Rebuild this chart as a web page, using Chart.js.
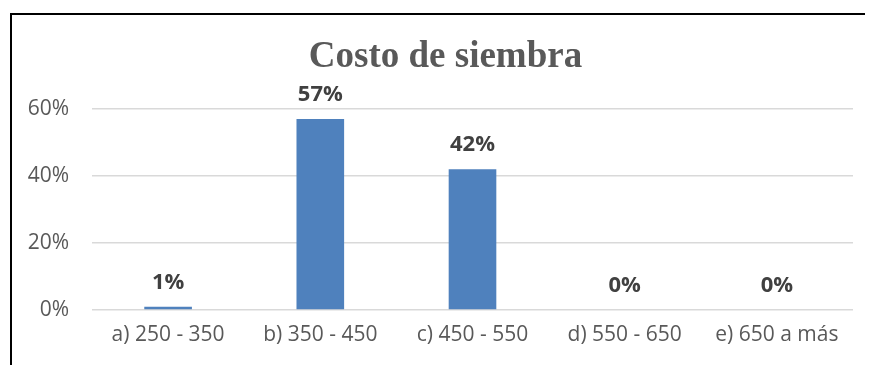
<!DOCTYPE html>
<html>
<head>
<meta charset="utf-8">
<script src="https://cdn.jsdelivr.net/npm/chart.js@4"></script>
<style>
  html, body { margin: 0; padding: 0; background: #fff; overflow: hidden; }
  .edge { position: absolute; background: #000; }
  #edgeTop { left: 10px; top: 13px; width: 855px; height: 2px; }
  #edgeLeft { left: 10px; top: 13px; width: 2px; height: 352px; }
  #barCanvas { position: absolute; left: 12px; top: 15px; display: block; }
</style>
</head>
<body>
<div class="edge" id="edgeTop"></div>
<div class="edge" id="edgeLeft"></div>
<canvas id="barCanvas" width="858" height="350"></canvas>
<script>
const categories = ["a) 250 - 350", "b) 350 - 450", "c) 450 - 550", "d) 550 - 650", "e) 650 a más"];
const percents = [1, 57, 42, 0, 0];
const yTicks = [0, 20, 40, 60];

// labels with the value above every bar
const valueLabels = {
    id: 'valueLabels',
    afterDatasetsDraw(chart) {
        const ctx = chart.ctx;
        const meta = chart.getDatasetMeta(0);
        ctx.save();
        ctx.font = 'bold 22px "Open Sans"';
        ctx.fillStyle = '#404040';
        ctx.textAlign = 'center';
        ctx.textBaseline = 'alphabetic';
        meta.data.forEach((bar, i) => {
            ctx.fillText(percents[i] + '%', bar.x, bar.y - 18);
        });
        ctx.restore();
    }
};

// title is centred on the full frame width, which runs past the right edge
const frameTitle = {
    id: 'frameTitle',
    afterDraw(chart) {
        const ctx = chart.ctx;
        ctx.save();
        ctx.font = 'bold 37px "Liberation Serif"';
        ctx.fillStyle = '#595959';
        ctx.textAlign = 'center';
        ctx.textBaseline = 'alphabetic';
        ctx.fillText("Costo de siembra", 433.5, 52);
        ctx.restore();
    }
};

const barCanvas = document.getElementById('barCanvas');

const barChart = new Chart(barCanvas, {
    type: "bar",
    data: {
        labels: categories,
        datasets: [{
            data: percents,
            backgroundColor: "#4f81bd",
            barPercentage: 0.313,
            categoryPercentage: 1,
        }]
    },
    options: {
        responsive: false,
        animation: false,
        layout: { padding: { left: 0, right: 17, top: 94, bottom: 0 } },
        plugins: {
            legend: { display: false },
            tooltip: { enabled: false },
            title: { display: false },
        },
        scales: {
            x: {
                grid: { display: false, drawTicks: false },
                border: { display: false },
                ticks: {
                    color: "#595959",
                    font: { family: '"Open Sans"', size: 21, lineHeight: 1.2 },
                    padding: 12,
                    maxRotation: 0,
                    autoSkip: false,
                },
                afterFit(scale) { scale.height = 55; },
            },
            y: {
                min: 0,
                max: 60,
                afterBuildTicks(scale) { scale.ticks = yTicks.map(v => ({ value: v })); },
                grid: { color: "#d9d9d9", lineWidth: 1.5, drawTicks: false, tickLength: 0 },
                border: { display: false },
                ticks: {
                    color: "#595959",
                    font: { family: '"Open Sans"', size: 21, lineHeight: 1.2 },
                    padding: 23,
                    callback: v => v + '%',
                },
                afterFit(scale) { scale.width = 80; },
            }
        }
    },
    plugins: [valueLabels, frameTitle],
});
</script>
</body>
</html>
